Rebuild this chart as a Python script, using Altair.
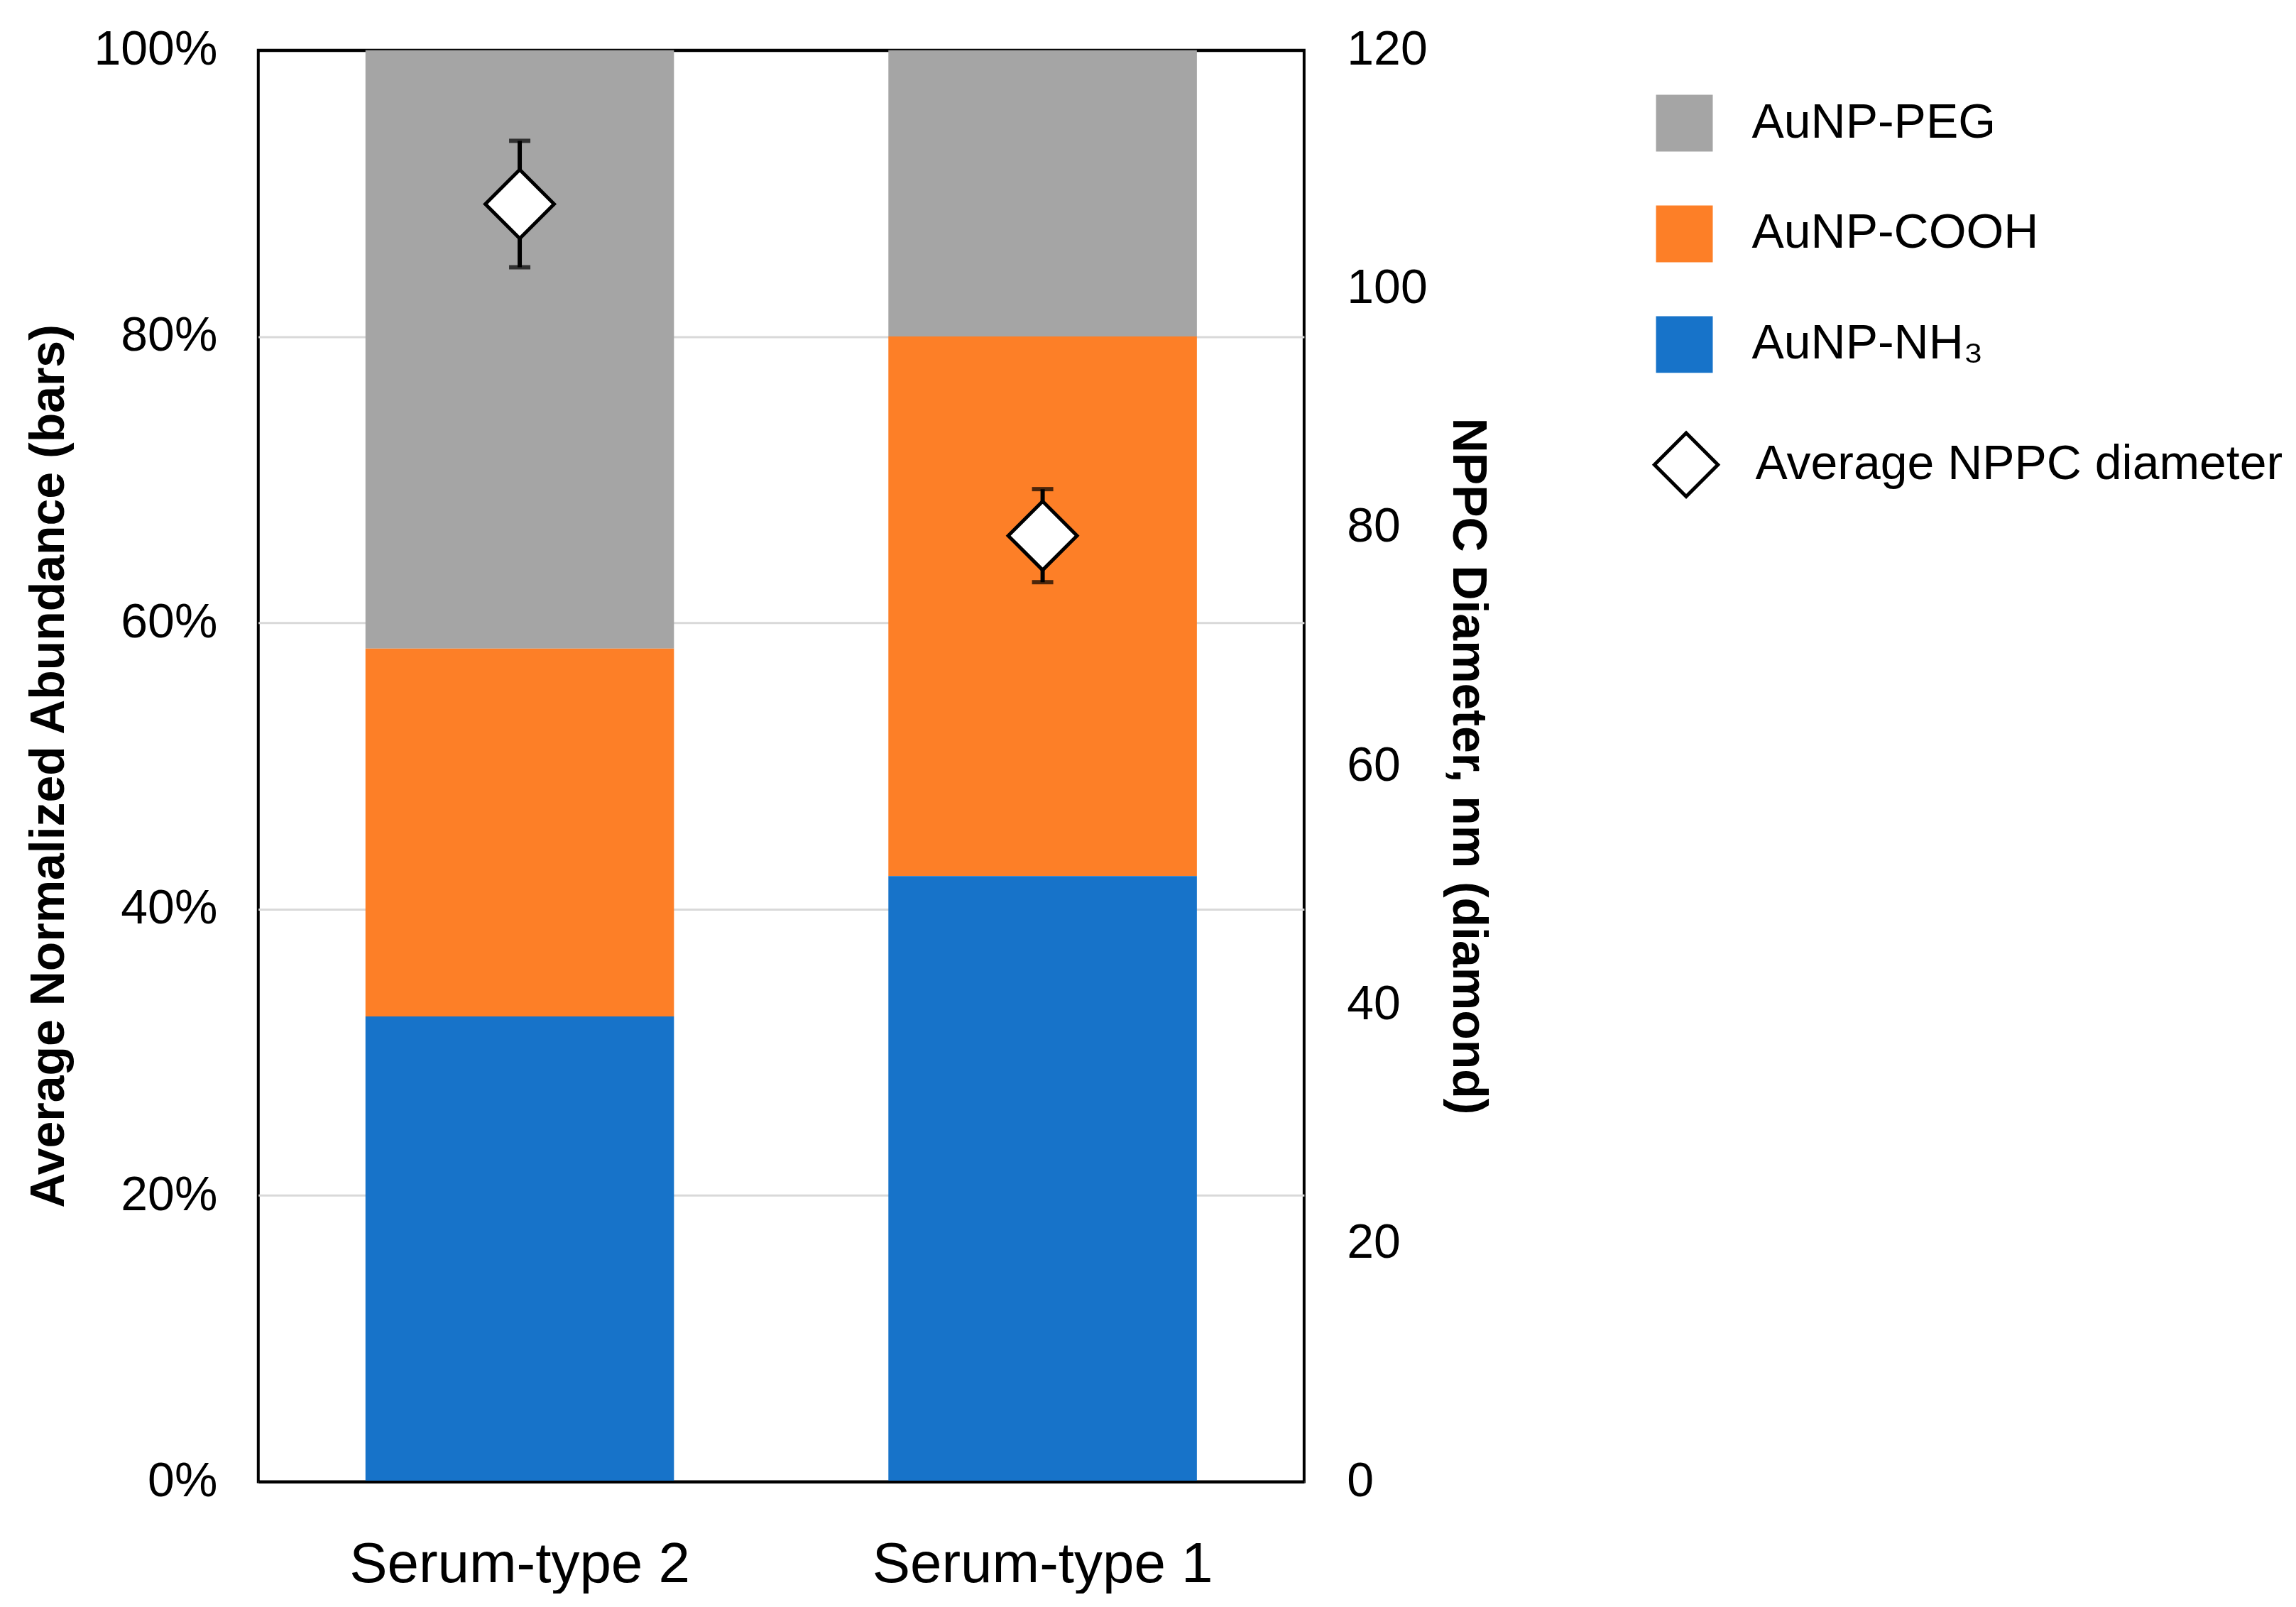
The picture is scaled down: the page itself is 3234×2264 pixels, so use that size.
import altair as alt
import pandas as pd

# ---- data ----
serums = ["Serum-type 2", "Serum-type 1"]
components = ["AuNP-PEG", "AuNP-COOH", "AuNP-NH₃"]
comp_colors = ["#A5A5A5", "#FD7F27", "#1773C9"]
stack_rank = [2, 1, 0]          # NH3 at bottom, PEG on top
peg = [0.418, 0.200]
cooh = [0.257, 0.377]
nh3 = [0.325, 0.423]
diam_mean = [107.1, 79.3]
diam_err = [5.3, 3.9]
diam_label = "Average NPPC diameter"

left_ticks = [0, 0.2, 0.4, 0.6, 0.8, 1.0]
right_ticks = [0, 20, 40, 60, 80, 100, 120]

# ---- tables ----
rows = []
for i, s in enumerate(serums):
    for comp, vals, rk in zip(components, [peg, cooh, nh3], stack_rank):
        rows.append({"serum": s, "component": comp, "value": vals[i], "rank": rk})
bar_df = pd.DataFrame(rows)

d_df = pd.DataFrame({
    "serum": serums,
    "mean": diam_mean,
    "lo": [m - e for m, e in zip(diam_mean, diam_err)],
    "hi": [m + e for m, e in zip(diam_mean, diam_err)],
    "label": [diam_label] * len(serums),
})

FONT = "Liberation Sans"
FS = 68


def X():
    return alt.X(
        "serum:N",
        sort=serums,
        scale=alt.Scale(paddingInner=0.41, paddingOuter=0.205),
        axis=alt.Axis(title=None, labelAngle=0, ticks=False,
                      domain=True, domainColor="black", domainWidth=4,
                      zindex=1,
                      labelFontSize=80, labelPadding=78, labelColor="black",
                      labelFont=FONT, labelLimit=0, grid=False),
    )


def YR(field):
    return alt.Y(
        field,
        scale=alt.Scale(domain=[0, 120], nice=False),
        axis=alt.Axis(orient="right", values=right_ticks, format="d",
                      title="NPPC Diameter, nm (diamond)", titleFontSize=FS,
                      titleFontWeight="bold", titleFont=FONT, titleColor="black",
                      labelFontSize=FS, labelFont=FONT, labelColor="black",
                      ticks=False, domain=False, grid=False,
                      labelPadding=60, titlePadding=22),
    )


bars = alt.Chart(bar_df).mark_bar(strokeWidth=0).encode(
    x=X(),
    y=alt.Y(
        "value:Q",
        stack="zero",
        scale=alt.Scale(domain=[0, 1], nice=False),
        axis=alt.Axis(values=left_ticks, format=".0%",
                      title="Average Normalized Abundance (bars)",
                      titleFontSize=FS, titleFontWeight="bold", titleFont=FONT,
                      titleColor="black", labelFontSize=FS, labelFont=FONT,
                      labelColor="black", ticks=False, domain=False, grid=True,
                      gridColor={"condition": {"test": "datum.value >= 1",
                                               "value": "black"},
                                 "value": "#D9D9D9"},
                      gridWidth={"condition": {"test": "datum.value >= 1",
                                               "value": 4},
                                 "value": 3},
                      labelPadding=58, titlePadding=60),
    ),
    color=alt.Color(
        "component:N",
        scale=alt.Scale(domain=components, range=comp_colors),
        legend=alt.Legend(orient="none", legendX=1970, legendY=63, title=None,
                          symbolType="square", symbolSize=6400,
                          symbolStrokeWidth=0, labelFontSize=FS,
                          labelFont=FONT, labelColor="black", labelOffset=55,
                          labelLimit=0, rowPadding=76, padding=0),
    ),
    order=alt.Order("rank:Q", sort="ascending"),
)

err = alt.Chart(d_df).mark_rule(color="black", strokeWidth=6).encode(
    x=X(), y=YR("lo:Q"), y2="hi:Q"
)
cap_lo = alt.Chart(d_df).mark_tick(color="black", size=30, thickness=6).encode(
    x=X(), y=YR("lo:Q")
)
cap_hi = alt.Chart(d_df).mark_tick(color="black", size=30, thickness=6).encode(
    x=X(), y=YR("hi:Q")
)

diam_legend = alt.Legend(orient="none", legendX=1965, legendY=537, title=None,
                         symbolType="diamond",
                         symbolSize=8000, symbolFillColor="white",
                         symbolStrokeColor="black", symbolStrokeWidth=5,
                         symbolOpacity=1,
                         labelFontSize=FS, labelFont=FONT, labelColor="black",
                         labelOffset=50, labelLimit=0, padding=0)

pts = alt.Chart(d_df).mark_point(
    shape="diamond", filled=False, fill="white", fillOpacity=1,
    strokeWidth=5, size=9400, opacity=1
).encode(
    x=X(),
    y=YR("mean:Q"),
    shape=alt.Shape(
        "label:N",
        scale=alt.Scale(domain=[diam_label], range=["diamond"]),
        legend=diam_legend,
    ),
    stroke=alt.Stroke(
        "label:N",
        scale=alt.Scale(domain=[diam_label], range=["black"]),
        legend=diam_legend,
    ),
)

right = alt.layer(err, cap_lo, cap_hi, pts)

chart = alt.layer(bars, right).resolve_scale(
    y="independent"
).properties(
    width=1474,
    height=2018,
    background="white",
    padding={"left": 28, "top": 28, "right": 10, "bottom": 0},
).configure_view(
    stroke="black", strokeWidth=4
)

chart.save("out.html", embed_options={"renderer": "svg", "actions": False})
